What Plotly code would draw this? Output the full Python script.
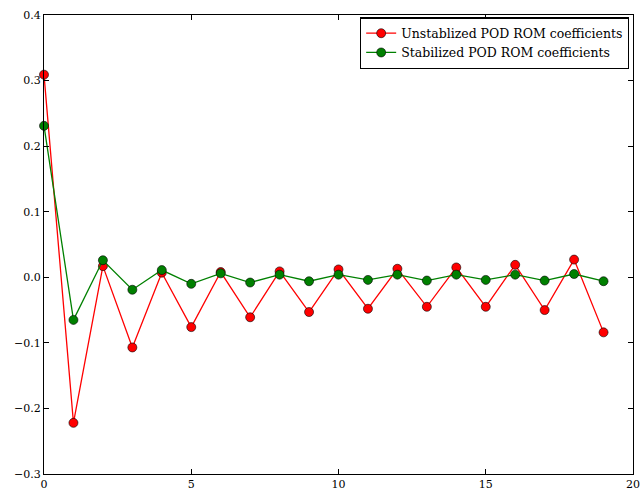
import plotly.graph_objects as go

x_vals = list(range(20))
unstab = [0.309, -0.222, 0.017, -0.107, 0.007, -0.076, 0.008, -0.061, 0.009, -0.053,
          0.012, -0.048, 0.013, -0.045, 0.015, -0.045, 0.019, -0.050, 0.027, -0.084]
stab = [0.231, -0.065, 0.026, -0.019, 0.011, -0.010, 0.006, -0.008, 0.004, -0.006,
        0.004, -0.004, 0.004, -0.005, 0.004, -0.004, 0.004, -0.005, 0.005, -0.006]
names = ["Unstablized POD ROM coefficients", "Stabilized POD ROM coefficients"]
colors = ["#ff0000", "#008000"]

fig = go.Figure()
for ys, nm, c in zip([unstab, stab], names, colors):
    fig.add_trace(go.Scatter(
        x=x_vals, y=ys, name=nm, mode="lines+markers",
        line=dict(color=c, width=1.3),
        marker=dict(color=c, size=9, line=dict(color="black", width=0.6)),
        cliponaxis=False,
    ))

axis_common = dict(
    showline=True, linecolor="black", linewidth=1.3, mirror="ticks",
    ticks="inside", ticklen=5, tickcolor="black", showgrid=False, zeroline=False,
    tickfont=dict(family="DejaVu Serif", size=11, color="black"),
    ticklabeloverflow="allow",
)
fig.update_layout(
    width=642, height=493,
    margin=dict(l=44, r=2, t=15, b=17),
    paper_bgcolor="white", plot_bgcolor="white",
    xaxis=dict(range=[0, 20], tickvals=[0, 5, 10, 15, 20], **axis_common),
    yaxis=dict(range=[-0.3, 0.4], tickvals=[-0.3, -0.2, -0.1, 0.0, 0.1, 0.2, 0.3, 0.4],
               tickformat=".1f", **axis_common),
    legend=dict(x=0.993, y=0.995, xanchor="right", yanchor="top",
                bordercolor="black", borderwidth=1.3, bgcolor="white",
                font=dict(family="DejaVu Serif", size=12.5, color="black"),
                tracegroupgap=0, itemwidth=30),
    showlegend=True,
)
fig.write_html("out.html")
